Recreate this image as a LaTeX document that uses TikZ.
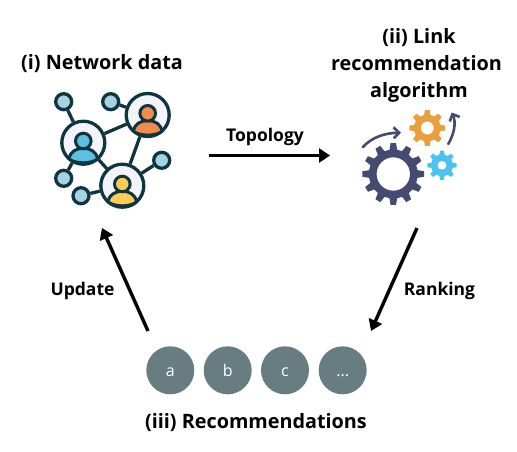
\documentclass[tikz,border=0pt]{standalone}
\usepackage{fontspec}
\setmainfont{Open Sans}
\usetikzlibrary{arrows.meta,backgrounds,calc}
\definecolor{ink}{HTML}{0F3540}
\definecolor{pale}{HTML}{F2F3FB}
\definecolor{sky}{HTML}{A6D3E2}
\definecolor{pblue}{HTML}{5FBFE0}
\definecolor{porange}{HTML}{EE8E4A}
\definecolor{pyellow}{HTML}{FFCB57}
\definecolor{gnavy}{HTML}{454A70}
\definecolor{gorange}{HTML}{EA9F3F}
\definecolor{gblue}{HTML}{4CC2EE}
\definecolor{slate}{HTML}{687D82}
\tikzset{
  x=1pt,y=-1pt,
  title/.style={font=\fontsize{19.8}{27}\selectfont\bfseries,text=black,align=center,inner sep=0pt},
  edgelabel/.style={font=\fontsize{17.5}{20}\selectfont\bfseries,text=black,inner sep=0pt},
  flow/.style={draw=black,line width=3.4pt,-{Triangle[length=11pt,width=14pt]}},
  rec/.style={circle,fill=slate,minimum size=48pt,inner sep=0pt,text=white,font=\fontsize{16}{18}\selectfont,text height=12.4pt,text depth=0pt},
  person/.style={circle,draw=ink,line width=3.3pt,fill=pale,minimum size=43pt,inner sep=0pt},
  leaf/.style={circle,draw=ink,line width=3.3pt,fill=sky,minimum size=16pt,inner sep=0pt},
  link/.style={draw=ink,line width=3.3pt},
  turn/.style={draw=gnavy,line width=2.6pt,line cap=round,-{Straight Barb[length=5.5pt,width=11pt]}}
}
% gear: centre x, y, teeth, outer, root, hole, colour
\newcommand{\gearshape}[7]{%
  \pgfmathsetmacro{\stepang}{360/#3}
  \pgfmathsetmacro{\lastidx}{#3-1}
  \fill[#7,even odd rule] (#1,#2) ++(-0.30*\stepang:#5)
   \foreach \k in {0,...,\lastidx}{
     -- ($(#1,#2)+(\k*\stepang-0.30*\stepang:#5)$)
     -- ($(#1,#2)+(\k*\stepang-0.17*\stepang:#4)$)
     -- ($(#1,#2)+(\k*\stepang+0.17*\stepang:#4)$)
     -- ($(#1,#2)+(\k*\stepang+0.30*\stepang:#5)$)
   } -- cycle
   (#1,#2) circle[radius=#6];
}
\newcommand{\personbody}[3]{%
  \fill[#3,draw=ink,line width=3pt,line join=round]
    (#1-14.5,#2+16) .. controls (#1-13,#2+9) and (#1-7,#2+5.5) .. (#1,#2+5.5)
    .. controls (#1+7,#2+5.5) and (#1+13,#2+9) .. (#1+14.5,#2+16)
    .. controls (#1+8,#2+21.5) and (#1-8,#2+21.5) .. cycle;
  \fill[#3,draw=ink,line width=3pt] (#1,#2-1.7) circle[radius=7.8];
}
\begin{document}
\begin{tikzpicture}
\useasboundingbox (0,0) rectangle (517,451);
% titles
\node[title] (t1) at (102,64) {(i) Network data};
\node[title] (t2) at (419,65) {(ii) Link\\\mbox{recommendation\hspace{5pt}}\\algorithm};
\node[title] (t3) at (256,423) {(iii) Recommendations};
% network
\node[person] (pb) at (83.3,142.7) {};
\node[person] (po) at (147.7,115) {};
\node[person] (py) at (122.3,185.7) {};
\node[leaf] (l1) at (63.7,101.7) {};
\node[leaf] (l2) at (110.7,101.7) {};
\node[leaf] (l3) at (161.7,160.3) {};
\node[leaf] (l4) at (63.7,178.3) {};
\node[leaf] (l5) at (81,195.7) {};
\begin{scope}[on background layer]
  \draw[link] (pb) -- (po);
  \draw[link] (pb) -- (py);
  \draw[link] (po) -- (py);
  \draw[link] (l1) -- (pb);
  \draw[link] (l2) -- (po);
  \draw[link] (l3) -- (py);
  \draw[link] (l4) -- (pb);
  \draw[link] (l5) -- (py);
\end{scope}
\personbody{83.3}{142.7}{pblue}
\personbody{147.7}{115}{porange}
\personbody{122.3}{185.7}{pyellow}
% gears
\gearshape{393.3}{174}{12}{31}{24.5}{16.7}{gnavy}
\gearshape{427.3}{128}{8}{18}{13.5}{6.5}{gorange}
\gearshape{442}{165.3}{8}{14.7}{11}{4.5}{gblue}
\coordinate (a1s) at (362.7,147.3);
\coordinate (a1e) at (401,132.7);
\coordinate (a2s) at (448.3,144);
\coordinate (a2e) at (451.7,112.5);
\draw[turn] (a1s) .. controls (372,137) and (385,133) .. (a1e);
\draw[turn] (a2s) .. controls (455,132) and (456,122) .. (a2e);
% recommendations
\node[rec] (a) at (170.3,370.3) {a};
\node[rec] (b) at (227.7,370.3) {b};
\node[rec] (c) at (285,370.3) {c};
\node[rec] (d) at (342.7,370.3) {...};
% flow
\coordinate (f1s) at (209,155.5);
\coordinate (f1e) at (330,155.5);
\coordinate (f2s) at (417,228);
\coordinate (f2e) at (371,331);
\coordinate (f3s) at (148,331);
\coordinate (f3e) at (102,228);
\draw[flow] (f1s) -- (f1e);
\draw[flow] (f2s) -- (f2e);
\draw[flow] (f3s) -- (f3e);
\node[edgelabel] (lt) at (265,137) {Topology};
\node[edgelabel] (lr) at (439.5,291) {Ranking};
\node[edgelabel] (lu) at (82.5,291) {Update};
\end{tikzpicture}
\end{document}
